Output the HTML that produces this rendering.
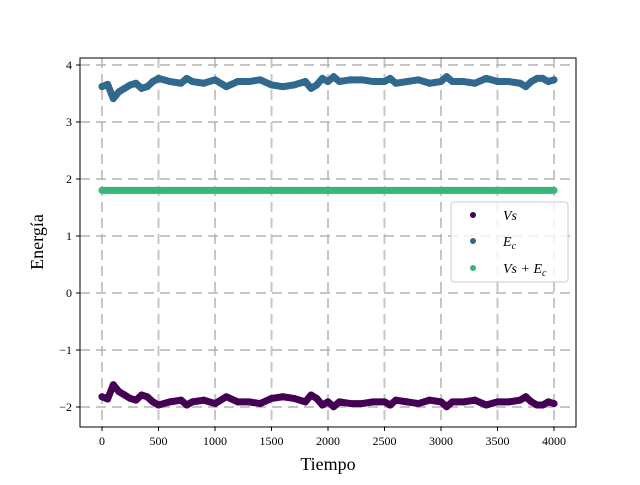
<!DOCTYPE html>
<html><head><meta charset="utf-8"><style>
body{margin:0;background:#fff}
text{font-family:"Liberation Serif",serif}
</style></head><body>
<svg id="chart" width="640" height="480" viewBox="0 0 640 480" xmlns="http://www.w3.org/2000/svg">
<g id="grid"></g>
<g id="series"></g>
<rect x="80" y="58" width="496" height="369" fill="none" stroke="#000" stroke-width="1"/>
<g id="ticks"></g>
<text x="328" y="470" font-size="18" text-anchor="middle">Tiempo</text>
<text x="43" y="242" font-size="18" text-anchor="middle" transform="rotate(-90 43 242)">Energía</text>
<g>
<rect x="451" y="202" width="117" height="80" rx="3" fill="#fff" fill-opacity="0.8" stroke="#ccc"/>
<g><circle cx="473" cy="215" r="3" fill="#440154"/><text x="503" y="220" font-size="14" font-style="italic">Vs</text></g>
<g><circle cx="473" cy="241" r="3" fill="#31688e"/><text x="503" y="246" font-size="14" font-style="italic">E<tspan font-size="10" dy="3">c</tspan></text></g>
<g><circle cx="473" cy="268" r="3" fill="#35b779"/><text x="503" y="273" font-size="14" font-style="italic">Vs + E<tspan font-size="10" dy="3">c</tspan></text></g>
</g>
</svg>
<script>
const times=[0,50,100,150,200,250,300,350,400,450,500,600,700,750,800,900,1000,1100,1200,1300,1400,1500,1600,1700,1800,1850,1900,1950,2000,2050,2100,2200,2300,2400,2500,2550,2600,2700,2800,2900,3000,3050,3100,3200,3300,3400,3500,3600,3700,3750,3800,3850,3900,3950,4000];
const vsValues=[-1.82,-1.86,-1.61,-1.73,-1.79,-1.85,-1.88,-1.79,-1.82,-1.91,-1.965,-1.91,-1.88,-1.965,-1.91,-1.88,-1.94,-1.82,-1.91,-1.91,-1.94,-1.85,-1.82,-1.85,-1.91,-1.79,-1.85,-1.965,-1.91,-1.995,-1.91,-1.94,-1.94,-1.91,-1.91,-1.965,-1.88,-1.91,-1.94,-1.88,-1.91,-1.995,-1.91,-1.91,-1.88,-1.965,-1.91,-1.91,-1.88,-1.82,-1.91,-1.965,-1.965,-1.91,-1.94];
const ecValues=[3.62,3.66,3.41,3.53,3.59,3.65,3.68,3.59,3.62,3.71,3.765,3.71,3.68,3.765,3.71,3.68,3.74,3.62,3.71,3.71,3.74,3.65,3.62,3.65,3.71,3.59,3.65,3.765,3.71,3.795,3.71,3.74,3.74,3.71,3.71,3.765,3.68,3.71,3.74,3.68,3.71,3.795,3.71,3.71,3.68,3.765,3.71,3.71,3.68,3.62,3.71,3.765,3.765,3.71,3.74];
const totalValues=times.map((t,i)=>vsValues[i]+ecValues[i]);
const xTicks=[0,500,1000,1500,2000,2500,3000,3500,4000];
const yTicks=[-2,-1,0,1,2,3,4];
const NS="http://www.w3.org/2000/svg";
const xs=t=>102+t*0.113;
const ys=v=>407-(v+2)*57;
function mk(tag,attrs,parent){const e=document.createElementNS(NS,tag);for(const k in attrs)e.setAttribute(k,attrs[k]);parent.appendChild(e);return e;}
const grid=document.getElementById('grid'),ticks=document.getElementById('ticks'),ser=document.getElementById('series');
xTicks.forEach(t=>{
 const l=mk('line',{x1:xs(t),x2:xs(t),y1:58,y2:427,stroke:'#b0b0b0','stroke-width':2,'stroke-dasharray':'10,6',opacity:0.7},grid);
 
 
 mk('line',{x1:xs(t),x2:xs(t),y1:427,y2:431,stroke:'#000'},ticks);
 const tx=mk('text',{x:xs(t),y:445,'font-size':12,'text-anchor':'middle'},ticks);tx.textContent=t;
 
 
});
yTicks.forEach(v=>{
 const l=mk('line',{x1:80,x2:576,y1:ys(v),y2:ys(v),stroke:'#b0b0b0','stroke-width':2,'stroke-dasharray':'10,6',opacity:0.7},grid);
 
 
 mk('line',{x1:76,x2:80,y1:ys(v),y2:ys(v),stroke:'#000'},ticks);
 const tx=mk('text',{x:72,y:ys(v)+4,'font-size':12,'text-anchor':'end'},ticks);tx.textContent=v<0?'\u2212'+(-v):v;
 
 
});
function draw(vals,color,name){
 const g=mk('g',{},ser);
 
 
 mk('polyline',{points:times.map((t,i)=>xs(t)+','+ys(vals[i])).join(' '),fill:'none',stroke:color,'stroke-width':7,'stroke-linejoin':'round','stroke-linecap':'round'},g);
 times.forEach((t,i)=>{const c=mk('circle',{cx:xs(t),cy:ys(vals[i]),r:3.5,fill:color},g);
  
  });
}
draw(vsValues,'#440154','series-vs');
draw(ecValues,'#31688e','series-ec');
draw(totalValues,'#35b779','series-total');
</script>
</body></html>
